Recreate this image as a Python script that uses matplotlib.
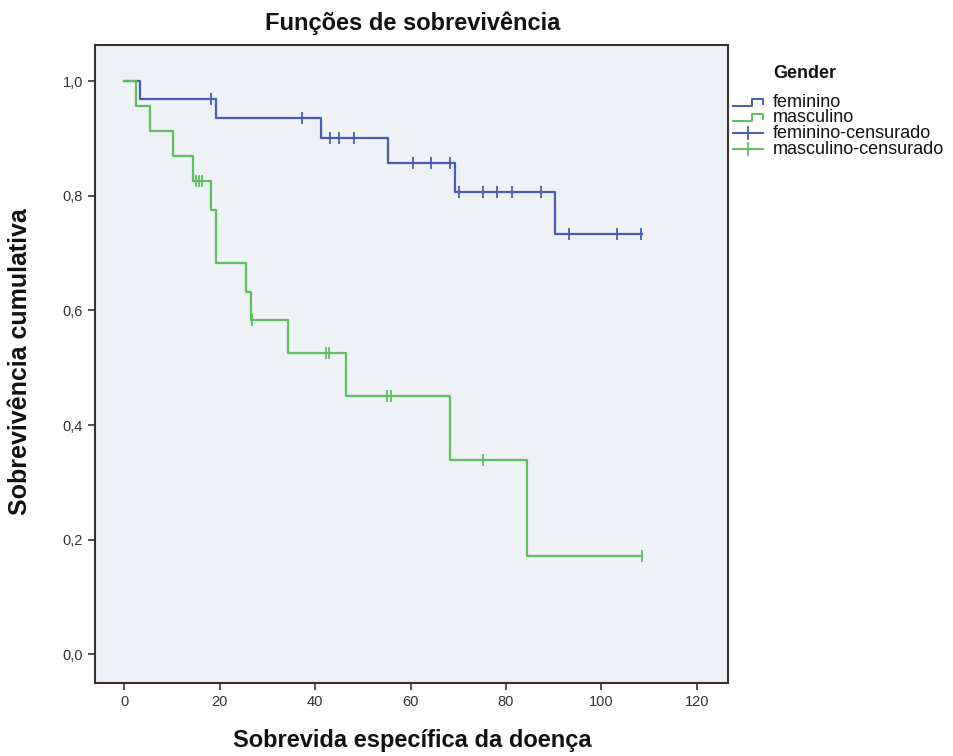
import matplotlib
matplotlib.use("Agg")
import matplotlib.pyplot as plt
from matplotlib.lines import Line2D
from matplotlib.ticker import FuncFormatter
import numpy as np

plt.rcParams['font.family'] = ['Liberation Sans', 'DejaVu Sans']

# ---- data ----
fem_times = [0, 3.4, 19.3, 41.3, 55.3, 69.3, 90.3]
fem_surv = [1.0, 0.968, 0.935, 0.900, 0.858, 0.807, 0.734]
fem_end = 108.5
fem_cens = [18.2, 37.3, 43.1, 45.0, 48.2, 60.5, 64.3, 68.3, 70.2, 75.2,
            78.1, 81.3, 87.3, 93.2, 103.2, 108.3]

masc_times = [0, 2.4, 5.4, 10.3, 14.4, 18.2, 19.3, 25.5, 26.5, 34.4, 46.4, 68.3, 84.3]
masc_surv = [1.0, 0.956, 0.913, 0.869, 0.826, 0.775, 0.682, 0.632, 0.583, 0.526,
             0.451, 0.339, 0.171]
masc_end = 108.4
masc_cens = [15.1, 15.6, 16.3, 26.7, 42.2, 43.0, 55.0, 56.0, 75.1, 108.4]

x_ticks = [0, 20, 40, 60, 80, 100, 120]
y_ticks = [0.0, 0.2, 0.4, 0.6, 0.8, 1.0]

legend_title = 'Gender'
legend_labels = ['feminino', 'masculino', 'feminino-censurado', 'masculino-censurado']

BLUE = '#4a5bb5'
GREEN = '#5cc05c'
W, H = 954, 756


def surv_at(times, surv, t):
    idx = np.searchsorted(times, t, side='right') - 1
    return np.asarray(surv)[idx]


def fx(x):
    return x / W


def fy(y):
    return 1 - y / H


fig = plt.figure(figsize=(W / 100, H / 100), dpi=100)
ax = fig.add_axes([fx(95), fy(683), (728 - 95) / W, (683 - 45) / H])
ax.set_facecolor('#eef1f5')

for times, surv, end, cens, col in [
        (fem_times, fem_surv, fem_end, fem_cens, BLUE),
        (masc_times, masc_surv, masc_end, masc_cens, GREEN)]:
    tx = list(times) + [end]
    sy = list(surv) + [surv[-1]]
    ax.step(tx, sy, where='post', color=col, lw=1.6)
    cy = [surv_at(times, surv, c) for c in cens]
    ax.plot(cens, cy, ls='none', marker='|', ms=9, mew=1.3, color=col)

ax.set_xlim(-6.1, 126.5)
ax.set_ylim(-0.05, 1.063)
ax.set_xticks(x_ticks)
ax.set_yticks(y_ticks)
ax.yaxis.set_major_formatter(FuncFormatter(lambda v, p: f"{v:.1f}".replace('.', ',')))
ax.tick_params(axis='both', direction='out', length=5, width=1.2, colors='#333333',
               labelsize=10.5, labelcolor='#333333')
for s in ax.spines.values():
    s.set_color('#3a3030')
    s.set_linewidth(1.5)

fig.text(fx(413), fy(23), 'Funções de sobrevivência', ha='center', va='center',
         fontsize=17, fontweight='bold', color='#111111')
fig.text(fx(412), fy(741), 'Sobrevida específica da doença', ha='center', va='center',
         fontsize=17, fontweight='bold', color='#111111')
fig.text(fx(20), fy(362), 'Sobrevivência cumulativa', ha='center', va='center',
         rotation=90, fontsize=18, fontweight='bold', color='#111111')

# ---- legend, drawn by hand (SPSS style) ----
fig.text(fx(773), fy(73), legend_title, ha='left', va='center', fontsize=13,
         fontweight='bold', color='#111111')
rows = [103, 118.2, 133.4, 148.6]
cols = [BLUE, GREEN, BLUE, GREEN]
for i, (col, yr) in enumerate(zip(cols, rows)):
    if i < 2:
        xs = [733, 752, 752, 763, 763]
        ys = [yr + 3, yr + 3, yr - 4, yr - 4, yr + 1]
        fig.add_artist(Line2D([fx(v) for v in xs], [fy(v) for v in ys], color=col,
                              lw=1.4, transform=fig.transFigure))
    else:
        fig.add_artist(Line2D([fx(733), fx(763)], [fy(yr), fy(yr)], color=col, lw=1.4,
                              transform=fig.transFigure))
        fig.add_artist(Line2D([fx(748), fx(748)], [fy(yr - 6), fy(yr + 6)], color=col,
                              lw=1.3, transform=fig.transFigure))
fig.text(fx(773), fy((rows[0] + rows[-1]) / 2), '\n'.join(legend_labels), ha='left',
         va='center', multialignment='left', fontsize=13, linespacing=0.9,
         color='#111111')

fig.savefig('out.png', dpi=100, facecolor='white')
